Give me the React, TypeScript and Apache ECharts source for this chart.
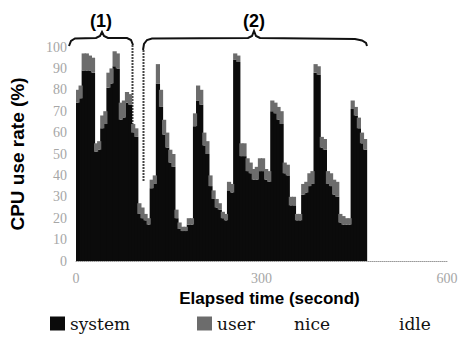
import React, { useEffect, useRef } from "react";
import * as echarts from "echarts";

// start of each 5-second bin (seconds) across the 0-600 s axis
const times = [
  0, 5, 10, 15, 20, 25, 30, 35, 40, 45, 50, 55, 60, 65, 70, 75, 80, 85, 90, 95,
  100, 105, 110, 115, 120, 125, 130, 135, 140, 145, 150, 155, 160, 165, 170, 175,
  180, 185, 190, 195, 200, 205, 210, 215, 220, 225, 230, 235, 240, 245, 250, 255,
  260, 265, 270, 275, 280, 285, 290, 295, 300, 305, 310, 315, 320, 325, 330, 335,
  340, 345, 350, 355, 360, 365, 370, 375, 380, 385, 390, 395, 400, 405, 410, 415,
  420, 425, 430, 435, 440, 445, 450, 455, 460, 465, 470, 475, 480, 485, 490, 495,
  500, 505, 510, 515, 520, 525, 530, 535, 540, 545, 550, 555, 560, 565, 570, 575,
  580, 585, 590, 595,
];

// samples exist only for 0-465 s
const systemVals = [
  74, 76, 89, 89, 89, 88, 51, 52, 62, 64, 81, 83, 91, 90, 66, 67, 74, 73, 60, 58,
  22, 20, 19, 17, 34, 36, 83, 72, 59, 53, 46, 44, 20, 15, 14, 14,
  17, 17, 63, 75, 73, 54, 50, 35, 29, 25, 24, 20, 19, 33, 32, 94,
  93, 49, 49, 42, 41, 38, 38, 42, 42, 38, 37, 70, 69, 66, 64, 41,
  40, 26, 26, 19, 19, 31, 32, 35, 36, 88, 87, 53, 52, 36, 35, 31,
  30, 18, 17, 17, 17, 71, 68, 62, 55, 52,
];
const userVals = [
  6, 6, 8, 8, 7, 7, 4, 4, 6, 6, 7, 7, 7, 7, 8, 8, 5, 5, 4, 4,
  5, 5, 3, 3, 4, 4, 9, 8, 7, 7, 6, 6, 4, 3, 2, 2,
  3, 3, 6, 7, 7, 6, 6, 5, 4, 4, 3, 3, 3, 4, 4, 3,
  3, 6, 6, 6, 5, 5, 6, 6, 6, 5, 5, 5, 5, 6, 6, 5,
  5, 4, 4, 3, 3, 5, 5, 6, 6, 4, 4, 5, 5, 6, 6, 7,
  7, 4, 4, 3, 3, 4, 4, 5, 5, 5,
];

const legendNames = ["system", "user", "nice", "idle"];
const xTicks = [0, 300, 600];

const SERIF_A = "DejaVu Serif";
const SERIF_B = "Liberation Serif";
const SANS = "Liberation Sans";

export default function App() {
  const ref = useRef<HTMLDivElement>(null);
  useEffect(() => {
    if (!ref.current) return;
    const chart = echarts.init(ref.current, null, { renderer: "svg" });
    const tickFont = { color: "#a6a6a6", fontFamily: SERIF_B, fontSize: 14 };
    const legendBase = {
      top: 315,
      padding: 0,
      orient: "horizontal",
      icon: "rect",
      itemWidth: 15,
      itemHeight: 14,
      selectedMode: false,
      textStyle: { fontFamily: SERIF_A, fontSize: 17, color: "#111" },
    };
    const BAR_W = 4.2;
    chart.setOption({
      animation: false,
      backgroundColor: "#ffffff",
      textStyle: { fontFamily: SERIF_A },
      grid: { left: 71, right: 16, top: 47, bottom: 77, containLabel: false },
      legend: [
        { ...legendBase, left: 50, data: [legendNames[0]] },
        { ...legendBase, left: 197, data: [legendNames[1]] },
        { ...legendBase, left: 274, data: [legendNames[2]] },
        { ...legendBase, left: 379, data: [legendNames[3]] },
      ],
      xAxis: [
        {
          type: "category",
          data: times.map(String),
          boundaryGap: true,
          show: false,
        },
        {
          type: "value",
          min: xTicks[0],
          max: xTicks[xTicks.length - 1],
          interval: 300,
          position: "bottom",
          axisLine: { show: true, lineStyle: { color: "#9a9a9a", type: "dotted", width: 1 } },
          axisTick: { show: false },
          splitLine: { show: false },
          axisLabel: { ...tickFont, margin: 10 },
          name: "Elapsed time (second)",
          nameLocation: "middle",
          nameGap: 28,
          nameTextStyle: {
            fontFamily: SANS,
            fontWeight: "bold",
            fontSize: 17,
            color: "#000",
            padding: [0, 0, 0, 16],
          },
        },
      ],
      yAxis: {
        type: "value",
        min: 0,
        max: 100,
        interval: 10,
        axisLine: { show: false },
        axisTick: { show: false },
        splitLine: { show: false },
        axisLabel: { ...tickFont, margin: 9 },
        name: "CPU use rate (%)",
        nameLocation: "middle",
        nameGap: 49,
        nameTextStyle: {
          fontFamily: SANS,
          fontWeight: "bold",
          fontSize: 19,
          color: "#000",
        },
      },
      series: [
        {
          name: "system",
          type: "bar",
          xAxisIndex: 0,
          stack: "cpu",
          barWidth: BAR_W,
          color: "#0b0b0b",
          itemStyle: { color: "#0b0b0b" },
          data: systemVals,
        },
        {
          name: "user",
          type: "bar",
          xAxisIndex: 0,
          stack: "cpu",
          barWidth: BAR_W,
          color: "#6c6c6c",
          itemStyle: { color: "#6c6c6c" },
          data: userVals,
        },
        { name: "nice", type: "bar", xAxisIndex: 0, stack: "cpu", barWidth: BAR_W, color: "#ffffff", itemStyle: { color: "#ffffff" }, data: [] },
        { name: "idle", type: "bar", xAxisIndex: 0, stack: "cpu", barWidth: BAR_W, color: "#ffffff", itemStyle: { color: "#ffffff" }, data: [] },
      ],
      graphic: [
        {
          type: "polyline",
          shape: {
            points: [[69, 46], [71, 41], [75, 38.5], [96, 38], [100, 36], [102, 32], [104, 36], [108, 38], [127, 38], [131, 40], [133, 45]],
          },
          style: { stroke: "#111", lineWidth: 2, fill: null },
        },
        {
          type: "polyline",
          shape: {
            points: [[143, 50], [144, 44], [147, 40], [152, 38.5], [248, 38], [252, 36], [254, 31], [256, 36], [260, 38], [355, 39], [362, 40.5], [366, 43], [367, 46]],
          },
          style: { stroke: "#111", lineWidth: 2, fill: null },
        },
        {
          type: "line",
          shape: { x1: 132.5, y1: 45, x2: 132.5, y2: 203 },
          style: { stroke: "#444", lineWidth: 2, lineDash: [2, 1] },
        },
        {
          type: "line",
          shape: { x1: 143.5, y1: 50, x2: 143.5, y2: 181 },
          style: { stroke: "#444", lineWidth: 2, lineDash: [2, 1] },
        },
        {
          type: "text",
          x: 101,
          y: 21,
          style: {
            text: "(1)",
            fontFamily: SANS,
            fontWeight: "bold",
            fontSize: 18,
            fill: "#000",
            align: "center",
            verticalAlign: "middle",
          },
        },
        {
          type: "text",
          x: 254,
          y: 21,
          style: {
            text: "(2)",
            fontFamily: SANS,
            fontWeight: "bold",
            fontSize: 18,
            fill: "#000",
            align: "center",
            verticalAlign: "middle",
          },
        },
      ],
    });
    return () => chart.dispose();
  }, []);
  return (
    <div
      ref={ref}
      style={{ position: "fixed", left: 0, top: 0, width: 463, height: 338 }}
    />
  );
}
